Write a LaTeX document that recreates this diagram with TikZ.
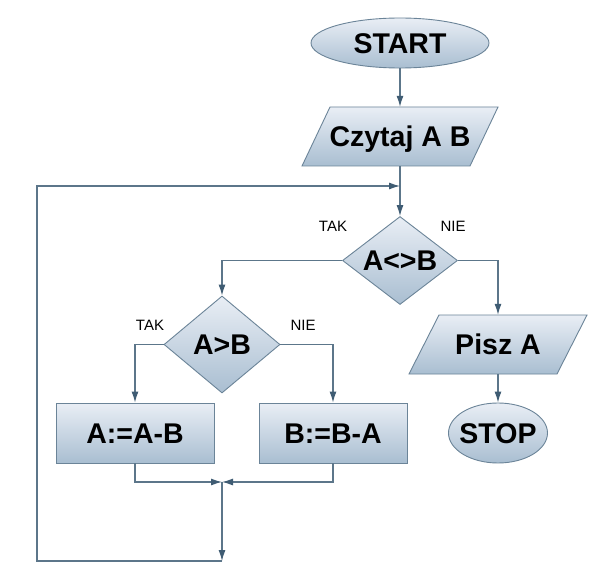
\documentclass[tikz,border=0pt]{standalone}
\usepackage{fontspec}
\setmainfont{Liberation Sans}
\usetikzlibrary{shapes.geometric,arrows.meta}
\definecolor{fillTop}{HTML}{E9EEF5}
\definecolor{fillBot}{HTML}{A9BED1}
\definecolor{edgec}{HTML}{6B8498}
\definecolor{wirec}{HTML}{5C768A}
\definecolor{tipc}{HTML}{3F5C73}
\tikzset{
  bigfont/.style={font=\bfseries\fontsize{28.5}{30}\selectfont, text height=20.4pt, text depth=0pt},
  box/.style={bigfont, draw=edgec, line width=0.9pt, top color=fillTop, bottom color=fillBot, inner sep=0pt},
  term/.style={box, ellipse},
  proc/.style={box, rectangle},
  dec/.style={box, diamond},
  txt/.style={bigfont, inner sep=0pt, rectangle},
  para/.style={draw=edgec, line width=0.9pt, top color=fillTop, bottom color=fillBot},
  wire/.style={draw=wirec, line width=1.1pt},
  arr/.style={wire, -{Latex[length=11pt,width=7pt,color=tipc]}},
  lbl/.style={font=\fontsize{15}{17}\selectfont, inner sep=0pt}
}
\begin{document}
\begin{tikzpicture}[x=1pt,y=-1pt]
\useasboundingbox (0,0) rectangle (608,588);
\fill[white] (0,0) rectangle (608,588);

% START
\node[term, minimum width=178pt, minimum height=50pt] (start) at (400,43) {START};

% Czytaj A B
\shade[para] (330,107) -- (498,107) -- (470,166) -- (302,166) -- cycle;
\node[txt, minimum width=168pt, minimum height=59pt] (czytaj) at (400,136.5) {Czytaj A B};

% A<>B
\node[dec, aspect=1.3, minimum width=115pt, minimum height=88pt] (neq) at (400,260.5) {A<>B};

% A>B
\node[dec, aspect=1.2, minimum width=116pt, minimum height=97pt] (gt) at (222,344.5) {A>B};

% A:=A-B, B:=B-A
\node[proc, minimum width=158pt, minimum height=60pt] (amb) at (135,433) {A:=A-B};
\node[proc, minimum width=148pt, minimum height=60pt] (bma) at (333,433) {B:=B-A};

% Pisz A
\shade[para] (439,315) -- (587,315) -- (557,374) -- (409,374) -- cycle;
\node[txt, minimum width=148pt, minimum height=59pt] (pisz) at (498,344.5) {Pisz A};

% STOP
\node[term, minimum width=99pt, minimum height=60pt] (stop) at (498,433) {\makebox[40pt][c]{STOP}};

% labels
\node[lbl] (tak1) at (333,226) {TAK};
\node[lbl] (nie1) at (453,226) {NIE};
\node[lbl] (tak2) at (150,325) {TAK};
\node[lbl] (nie2) at (303,325) {NIE};

% helper coordinates
\coordinate (join) at (222,482);
\coordinate (bot) at (222,561);
\coordinate (botL) at (37,561);
\coordinate (loopin) at (400,186);

% connectors
\draw[arr] (start) -- (czytaj);
\draw[arr] (czytaj.south) -- (neq.north);
\draw[arr] (neq.west) -| (gt.north);
\draw[arr] (neq.east) -| (pisz.north);
\draw[arr] (gt.west) -| (amb.north);
\draw[arr] (gt.east) -| (bma.north);
\draw[arr] (amb.south) |- (join);
\draw[arr] (bma.south) |- (join);
\draw[arr] (join) -- (bot);
\draw[arr] (bot) -- (botL) |- (loopin);
\draw[arr] (pisz.south) -- (stop.north);
\end{tikzpicture}
\end{document}
